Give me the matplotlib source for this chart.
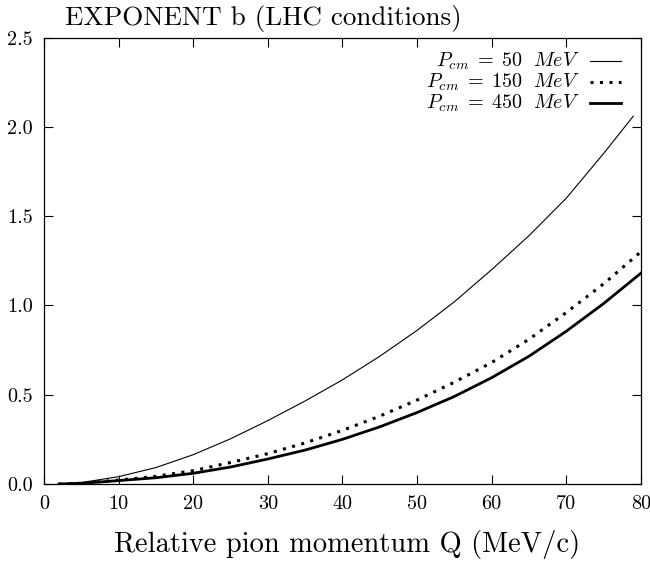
import matplotlib
matplotlib.use("Agg")
import matplotlib.pyplot as plt

plt.rcParams['font.family'] = ['cmr10', 'DejaVu Serif']
plt.rcParams['mathtext.fontset'] = 'cm'
plt.rcParams['axes.formatter.use_mathtext'] = True

# Data
q_50 = [2, 5, 10, 15, 20, 25, 30, 35, 40, 45, 50, 55, 60, 65, 70, 75, 79]
b_50 = [0.0, 0.008, 0.041, 0.092, 0.164, 0.253, 0.355, 0.465, 0.583, 0.715,
        0.86, 1.02, 1.20, 1.39, 1.60, 1.85, 2.06]
q_all = [2, 5, 10, 15, 20, 25, 30, 35, 40, 45, 50, 55, 60, 65, 70, 75, 80]
b_150 = [0.0, 0.004, 0.022, 0.043, 0.075, 0.12, 0.17, 0.23, 0.30, 0.38,
         0.47, 0.57, 0.68, 0.81, 0.96, 1.12, 1.30]
b_450 = [0.0, 0.004, 0.019, 0.035, 0.06, 0.095, 0.14, 0.19, 0.25, 0.32,
         0.40, 0.49, 0.595, 0.715, 0.855, 1.01, 1.18]
labels = [r'$P_{cm}\;=\;50\ \ MeV$', r'$P_{cm}\;=\;150\ \ MeV$',
          r'$P_{cm}\;=\;450\ \ MeV$']
x_ticks = [0, 10, 20, 30, 40, 50, 60, 70, 80]
y_ticks = [0.0, 0.5, 1.0, 1.5, 2.0, 2.5]
title = 'EXPONENT b (LHC conditions)'
xlabel = 'Relative pion momentum Q (MeV/c)'

fig = plt.figure(figsize=(6.5, 5.63), dpi=100)
ax = fig.add_axes([44/650, (563-484)/563, 596.7/650, 446.3/563])

styles = [
    dict(color='black', lw=0.8, ls='-'),
    dict(color='black', lw=2.2, ls=(0, (1, 2.1))),
    dict(color='black', lw=2.0, ls='-'),
]
series = [(q_50, b_50), (q_all, b_150), (q_all, b_450)]
for (qx, by), st in zip(series, styles):
    ax.plot(qx, by, **st)

ax.set_xlim(0, 80)
ax.set_ylim(0, 2.5)
ax.set_xticks(x_ticks)
ax.set_xticklabels([str(v) for v in x_ticks])
ax.set_yticks(y_ticks)
ax.set_yticklabels([f'{v:.1f}' for v in y_ticks])
ax.tick_params(direction='in', length=6.5, width=0.8, top=True, right=True,
               labelsize=14.5, pad=8)
for sp in ax.spines.values():
    sp.set_linewidth(0.9)

# legend (right-aligned labels, sample lines to the right)
rows = [0.9477, 0.900, 0.853]
for lab, st, yr in zip(labels, styles, rows):
    ax.text(0.898, yr, lab, transform=ax.transAxes, ha='right', va='center',
            fontsize=14.5)
    ax.plot([0.915, 0.967], [yr, yr], transform=ax.transAxes, **st)

fig.text(65/650, 1 - 25/563, title, ha='left', va='baseline', fontsize=19.5)

ax.set_xlabel(xlabel, fontsize=20.5)
ax.xaxis.set_label_coords((347.5-44)/596.7, (484-552)/446.3)
ax.xaxis.label.set_va('baseline')

fig.savefig('out.png', dpi=100)
